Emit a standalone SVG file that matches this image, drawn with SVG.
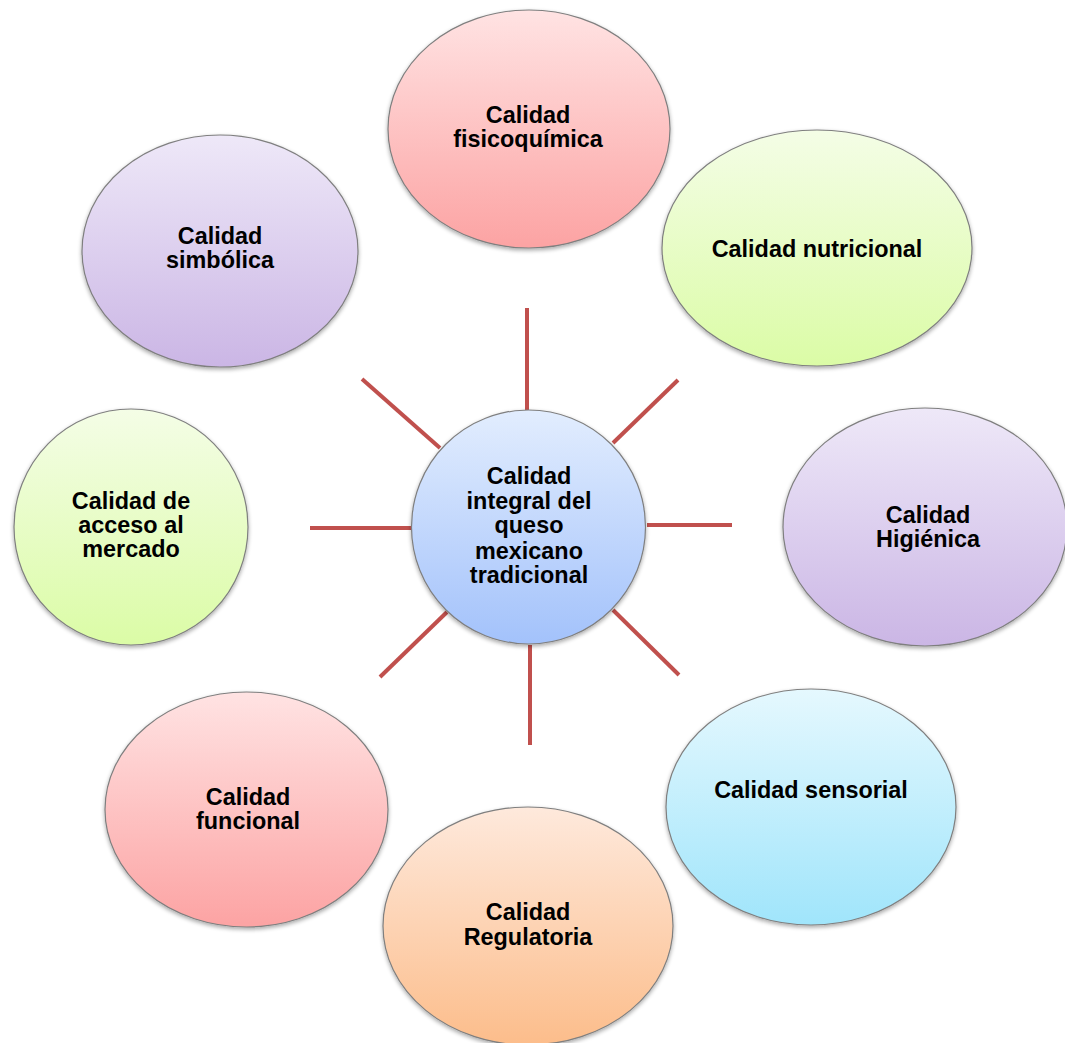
<svg xmlns="http://www.w3.org/2000/svg" width="1065" height="1043" viewBox="0 0 1065 1043">
<style>
.n{stroke:#7f7f7f;stroke-width:1.2;filter:url(#sh)}
.t{font-family:"Liberation Sans",Arial,sans-serif;font-weight:bold;font-size:23.4px;fill:#000;text-anchor:middle}
.c line{stroke:#c0504d;stroke-width:4}
</style>
<defs>
<filter id="sh" x="-10%" y="-10%" width="120%" height="125%">
<feGaussianBlur in="SourceAlpha" stdDeviation="2"/>
<feOffset dx="0" dy="2" result="b"/>
<feComponentTransfer><feFuncA type="linear" slope="0.35"/></feComponentTransfer>
<feMerge><feMergeNode/><feMergeNode in="SourceGraphic"/></feMerge>
</filter>
<linearGradient id="gPink" x1="0" y1="0" x2="0" y2="1"><stop offset="0" stop-color="#ffe3e3"/><stop offset="1" stop-color="#fca3a3"/></linearGradient>
<linearGradient id="gGreen" x1="0" y1="0" x2="0" y2="1"><stop offset="0" stop-color="#f4fde6"/><stop offset="1" stop-color="#dbfca6"/></linearGradient>
<linearGradient id="gPurple" x1="0" y1="0" x2="0" y2="1"><stop offset="0" stop-color="#eee8f8"/><stop offset="1" stop-color="#cbb6e5"/></linearGradient>
<linearGradient id="gBlue" x1="0" y1="0" x2="0" y2="1"><stop offset="0" stop-color="#e2edfe"/><stop offset="1" stop-color="#a3c2fb"/></linearGradient>
<linearGradient id="gCyan" x1="0" y1="0" x2="0" y2="1"><stop offset="0" stop-color="#e5f8fe"/><stop offset="1" stop-color="#a0e5fb"/></linearGradient>
<linearGradient id="gOrange" x1="0" y1="0" x2="0" y2="1"><stop offset="0" stop-color="#fee9dc"/><stop offset="1" stop-color="#fcbd8b"/></linearGradient>
</defs>
<rect width="1065" height="1043" fill="#fff"/>
<g id="connectors" class="c">
<line x1="527" y1="308" x2="527" y2="410"/>
<line x1="678" y1="380" x2="613" y2="443"/>
<line x1="647" y1="525" x2="732" y2="525"/>
<line x1="613" y1="610" x2="679" y2="675"/>
<line x1="530" y1="645" x2="530" y2="745"/>
<line x1="447" y1="612" x2="380" y2="677"/>
<line x1="310" y1="528" x2="411" y2="528"/>
<line x1="362" y1="379" x2="440" y2="448"/>
</g>
<g id="n-fisicoquimica">
<ellipse class="n" cx="529" cy="129" rx="141" ry="119" fill="url(#gPink)"/>
<text class="t" x="528" y="122.5">Calidad</text>
<text class="t" x="528" y="146.5">fisicoquímica</text>
</g>
<g id="n-nutricional">
<ellipse class="n" cx="817" cy="248" rx="155" ry="118" fill="url(#gGreen)"/>
<text class="t" x="817" y="257">Calidad nutricional</text>
</g>
<g id="n-higienica">
<ellipse class="n" cx="925" cy="527" rx="142" ry="119" fill="url(#gPurple)"/>
<text class="t" x="928" y="523">Calidad</text>
<text class="t" x="928" y="547">Higiénica</text>
</g>
<g id="n-sensorial">
<ellipse class="n" cx="811" cy="807" rx="145" ry="118" fill="url(#gCyan)"/>
<text class="t" x="811" y="798">Calidad sensorial</text>
</g>
<g id="n-regulatoria">
<ellipse class="n" cx="528" cy="926" rx="145" ry="119" fill="url(#gOrange)"/>
<text class="t" x="528" y="920">Calidad</text>
<text class="t" x="528" y="945">Regulatoria</text>
</g>
<g id="n-funcional">
<ellipse class="n" cx="246.5" cy="809.5" rx="141.5" ry="117.5" fill="url(#gPink)"/>
<text class="t" x="248" y="804.5">Calidad</text>
<text class="t" x="248" y="828.5">funcional</text>
</g>
<g id="n-acceso">
<ellipse class="n" cx="131" cy="527" rx="117" ry="118" fill="url(#gGreen)"/>
<text class="t" x="131" y="509">Calidad de</text>
<text class="t" x="131" y="533">acceso al</text>
<text class="t" x="131" y="557">mercado</text>
</g>
<g id="n-simbolica">
<ellipse class="n" cx="220" cy="251" rx="138" ry="116" fill="url(#gPurple)"/>
<text class="t" x="220" y="244">Calidad</text>
<text class="t" x="220" y="268">simbólica</text>
</g>
<g id="n-centro">
<circle class="n" cx="528.5" cy="527" r="117" fill="url(#gBlue)"/>
<text class="t" x="529" y="484">Calidad</text>
<text class="t" x="529" y="509">integral del</text>
<text class="t" x="529" y="533">queso</text>
<text class="t" x="529" y="559">mexicano</text>
<text class="t" x="529" y="583">tradicional</text>
</g>
</svg>
